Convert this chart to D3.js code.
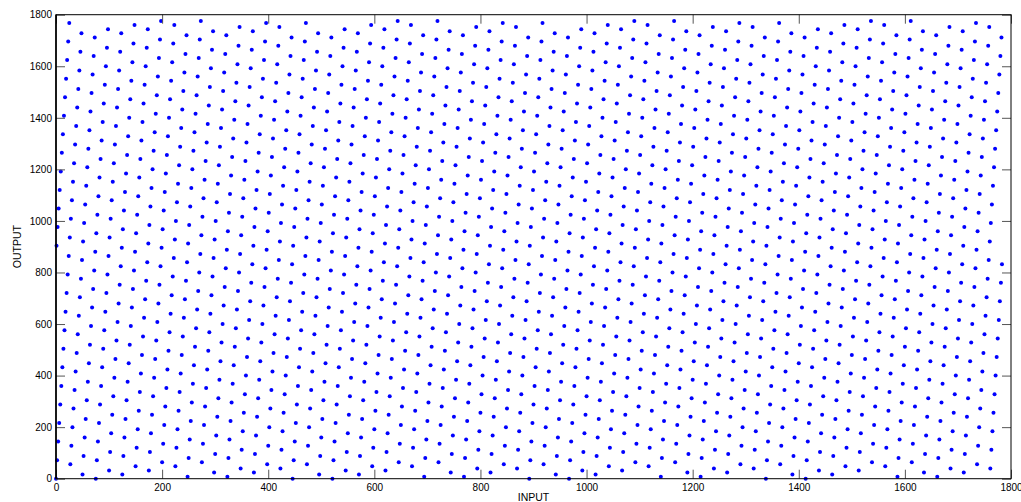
<!DOCTYPE html>
<html>
<head>
<meta charset="utf-8">
<script src="https://cdn.jsdelivr.net/npm/d3@7"></script>
<style>
  html, body { margin: 0; padding: 0; background: #fff; }
  svg { display: block; font-family: "Liberation Sans", Arial, Helvetica, sans-serif; }
</style>
</head>
<body>
<div id="chart"></div>
<script>
// output position for each even input 0, 2, 4, ... 1782 (pattern repeats every 446 inputs)
const outEven = [
  0,72,144,216,288,360,432,504,576,648,720,792,864,936,1008,1080,1152,1224,1296,1368,1440,1512,1584,1656,1728,16,88,160,232,304,376,448,520,592,664,736,808,880,952,1024,1096,1168,1240,1312,1384,1456,1528,1600,1672,1744,32,104,176,248,320,392,464,536,608,680,752,824,896,968,1040,1112,1184,1256,1328,1400,1472,1544,1616,1688,1760,48,120,192,264,336,408,480,552,624,696,768,840,912,984,1056,1128,1200,1272,1344,1416,1488,1560,1632,1704,1776,64,136,208,280,352,424,496,568,640,712,784,856,928,1000,1072,1144,1216,1288,1360,1432,1504,1576,1648,1720,8,80,152,224,296,368,440,512,584,656,728,800,872,944,1016,1088,1160,1232,1304,1376,1448,1520,1592,1664,1736,24,96,168,240,312,384,456,528,600,672,744,816,888,960,1032,1104,1176,1248,1320,1392,1464,1536,1608,1680,1752,40,112,184,256,328,400,472,544,616,688,760,832,904,976,1048,1120,1192,1264,1336,1408,1480,1552,1624,1696,1768,56,128,200,272,344,416,488,560,632,704,776,848,920,992,1064,1136,1208,1280,1352,1424,1496,1568,1640,1712,
  0,72,144,216,288,360,432,504,576,648,720,792,864,936,1008,1080,1152,1224,1296,1368,1440,1512,1584,1656,1728,16,88,160,232,304,376,448,520,592,664,736,808,880,952,1024,1096,1168,1240,1312,1384,1456,1528,1600,1672,1744,32,104,176,248,320,392,464,536,608,680,752,824,896,968,1040,1112,1184,1256,1328,1400,1472,1544,1616,1688,1760,48,120,192,264,336,408,480,552,624,696,768,840,912,984,1056,1128,1200,1272,1344,1416,1488,1560,1632,1704,1776,64,136,208,280,352,424,496,568,640,712,784,856,928,1000,1072,1144,1216,1288,1360,1432,1504,1576,1648,1720,8,80,152,224,296,368,440,512,584,656,728,800,872,944,1016,1088,1160,1232,1304,1376,1448,1520,1592,1664,1736,24,96,168,240,312,384,456,528,600,672,744,816,888,960,1032,1104,1176,1248,1320,1392,1464,1536,1608,1680,1752,40,112,184,256,328,400,472,544,616,688,760,832,904,976,1048,1120,1192,1264,1336,1408,1480,1552,1624,1696,1768,56,128,200,272,344,416,488,560,632,704,776,848,920,992,1064,1136,1208,1280,1352,1424,1496,1568,1640,1712,
  0,72,144,216,288,360,432,504,576,648,720,792,864,936,1008,1080,1152,1224,1296,1368,1440,1512,1584,1656,1728,16,88,160,232,304,376,448,520,592,664,736,808,880,952,1024,1096,1168,1240,1312,1384,1456,1528,1600,1672,1744,32,104,176,248,320,392,464,536,608,680,752,824,896,968,1040,1112,1184,1256,1328,1400,1472,1544,1616,1688,1760,48,120,192,264,336,408,480,552,624,696,768,840,912,984,1056,1128,1200,1272,1344,1416,1488,1560,1632,1704,1776,64,136,208,280,352,424,496,568,640,712,784,856,928,1000,1072,1144,1216,1288,1360,1432,1504,1576,1648,1720,8,80,152,224,296,368,440,512,584,656,728,800,872,944,1016,1088,1160,1232,1304,1376,1448,1520,1592,1664,1736,24,96,168,240,312,384,456,528,600,672,744,816,888,960,1032,1104,1176,1248,1320,1392,1464,1536,1608,1680,1752,40,112,184,256,328,400,472,544,616,688,760,832,904,976,1048,1120,1192,1264,1336,1408,1480,1552,1624,1696,1768,56,128,200,272,344,416,488,560,632,704,776,848,920,992,1064,1136,1208,1280,1352,1424,1496,1568,1640,1712,
  0,72,144,216,288,360,432,504,576,648,720,792,864,936,1008,1080,1152,1224,1296,1368,1440,1512,1584,1656,1728,16,88,160,232,304,376,448,520,592,664,736,808,880,952,1024,1096,1168,1240,1312,1384,1456,1528,1600,1672,1744,32,104,176,248,320,392,464,536,608,680,752,824,896,968,1040,1112,1184,1256,1328,1400,1472,1544,1616,1688,1760,48,120,192,264,336,408,480,552,624,696,768,840,912,984,1056,1128,1200,1272,1344,1416,1488,1560,1632,1704,1776,64,136,208,280,352,424,496,568,640,712,784,856,928,1000,1072,1144,1216,1288,1360,1432,1504,1576,1648,1720,8,80,152,224,296,368,440,512,584,656,728,800,872,944,1016,1088,1160,1232,1304,1376,1448,1520,1592,1664,1736,24,96,168,240,312,384,456,528,600,672,744,816,888,960,1032,1104,1176,1248,1320,1392,1464,1536,1608,1680,1752,40,112,184,256,328,400,472,544,616,688,760,832,904,976,1048,1120,1192,1264,1336,1408,1480,1552,1624,1696,1768,56,128,200,272,344,416,488,560,632,704,776,848,920,992,1064,1136,1208,1280,1352,1424,1496,1568,1640,1712
];

// output position for each odd input 1, 3, 5, ... 1783
const outOdd = [
  904,976,1048,1120,1192,1264,1336,1408,1480,1552,1624,1696,1768,56,128,200,272,344,416,488,560,632,704,776,848,920,992,1064,1136,1208,1280,1352,1424,1496,1568,1640,1712,0,72,144,216,288,360,432,504,576,648,720,792,864,936,1008,1080,1152,1224,1296,1368,1440,1512,1584,1656,1728,16,88,160,232,304,376,448,520,592,664,736,808,880,952,1024,1096,1168,1240,1312,1384,1456,1528,1600,1672,1744,32,104,176,248,320,392,464,536,608,680,752,824,896,968,1040,1112,1184,1256,1328,1400,1472,1544,1616,1688,1760,48,120,192,264,336,408,480,552,624,696,768,840,912,984,1056,1128,1200,1272,1344,1416,1488,1560,1632,1704,1776,64,136,208,280,352,424,496,568,640,712,784,856,928,1000,1072,1144,1216,1288,1360,1432,1504,1576,1648,1720,8,80,152,224,296,368,440,512,584,656,728,800,872,944,1016,1088,1160,1232,1304,1376,1448,1520,1592,1664,1736,24,96,168,240,312,384,456,528,600,672,744,816,888,960,1032,1104,1176,1248,1320,1392,1464,1536,1608,1680,1752,40,112,184,256,328,400,472,544,616,688,760,832,
  904,976,1048,1120,1192,1264,1336,1408,1480,1552,1624,1696,1768,56,128,200,272,344,416,488,560,632,704,776,848,920,992,1064,1136,1208,1280,1352,1424,1496,1568,1640,1712,0,72,144,216,288,360,432,504,576,648,720,792,864,936,1008,1080,1152,1224,1296,1368,1440,1512,1584,1656,1728,16,88,160,232,304,376,448,520,592,664,736,808,880,952,1024,1096,1168,1240,1312,1384,1456,1528,1600,1672,1744,32,104,176,248,320,392,464,536,608,680,752,824,896,968,1040,1112,1184,1256,1328,1400,1472,1544,1616,1688,1760,48,120,192,264,336,408,480,552,624,696,768,840,912,984,1056,1128,1200,1272,1344,1416,1488,1560,1632,1704,1776,64,136,208,280,352,424,496,568,640,712,784,856,928,1000,1072,1144,1216,1288,1360,1432,1504,1576,1648,1720,8,80,152,224,296,368,440,512,584,656,728,800,872,944,1016,1088,1160,1232,1304,1376,1448,1520,1592,1664,1736,24,96,168,240,312,384,456,528,600,672,744,816,888,960,1032,1104,1176,1248,1320,1392,1464,1536,1608,1680,1752,40,112,184,256,328,400,472,544,616,688,760,832,
  904,976,1048,1120,1192,1264,1336,1408,1480,1552,1624,1696,1768,56,128,200,272,344,416,488,560,632,704,776,848,920,992,1064,1136,1208,1280,1352,1424,1496,1568,1640,1712,0,72,144,216,288,360,432,504,576,648,720,792,864,936,1008,1080,1152,1224,1296,1368,1440,1512,1584,1656,1728,16,88,160,232,304,376,448,520,592,664,736,808,880,952,1024,1096,1168,1240,1312,1384,1456,1528,1600,1672,1744,32,104,176,248,320,392,464,536,608,680,752,824,896,968,1040,1112,1184,1256,1328,1400,1472,1544,1616,1688,1760,48,120,192,264,336,408,480,552,624,696,768,840,912,984,1056,1128,1200,1272,1344,1416,1488,1560,1632,1704,1776,64,136,208,280,352,424,496,568,640,712,784,856,928,1000,1072,1144,1216,1288,1360,1432,1504,1576,1648,1720,8,80,152,224,296,368,440,512,584,656,728,800,872,944,1016,1088,1160,1232,1304,1376,1448,1520,1592,1664,1736,24,96,168,240,312,384,456,528,600,672,744,816,888,960,1032,1104,1176,1248,1320,1392,1464,1536,1608,1680,1752,40,112,184,256,328,400,472,544,616,688,760,832,
  904,976,1048,1120,1192,1264,1336,1408,1480,1552,1624,1696,1768,56,128,200,272,344,416,488,560,632,704,776,848,920,992,1064,1136,1208,1280,1352,1424,1496,1568,1640,1712,0,72,144,216,288,360,432,504,576,648,720,792,864,936,1008,1080,1152,1224,1296,1368,1440,1512,1584,1656,1728,16,88,160,232,304,376,448,520,592,664,736,808,880,952,1024,1096,1168,1240,1312,1384,1456,1528,1600,1672,1744,32,104,176,248,320,392,464,536,608,680,752,824,896,968,1040,1112,1184,1256,1328,1400,1472,1544,1616,1688,1760,48,120,192,264,336,408,480,552,624,696,768,840,912,984,1056,1128,1200,1272,1344,1416,1488,1560,1632,1704,1776,64,136,208,280,352,424,496,568,640,712,784,856,928,1000,1072,1144,1216,1288,1360,1432,1504,1576,1648,1720,8,80,152,224,296,368,440,512,584,656,728,800,872,944,1016,1088,1160,1232,1304,1376,1448,1520,1592,1664,1736,24,96,168,240,312,384,456,528,600,672,744,816,888,960,1032,1104,1176,1248,1320,1392,1464,1536,1608,1680,1752,40,112,184,256,328,400,472,544,616,688,760,832
];

const xTicks = [0, 200, 400, 600, 800, 1000, 1200, 1400, 1600, 1800];
const yTicks = [0, 200, 400, 600, 800, 1000, 1200, 1400, 1600, 1800];

const width = 1021;
const height = 502;
const margin = { top: 14.7, right: 10, bottom: 23.3, left: 56 };
const plotW = width - margin.left - margin.right;
const plotH = height - margin.top - margin.bottom;

const points = [];
outEven.forEach((v, k) => points.push({ input: 2 * k, output: v }));
outOdd.forEach((v, k) => points.push({ input: 2 * k + 1, output: v }));

const svg = d3.select("#chart")
    .append("svg")
    .attr("width", width)
    .attr("height", height);

const g = svg.append("g")
    .attr("transform", `translate(${margin.left},${margin.top})`);

const x = d3.scaleLinear().domain([0, 1800]).range([0, plotW]);
const y = d3.scaleLinear().domain([0, 1800]).range([plotH, 0]);

g.append("g")
    .attr("class", "dots")
    .selectAll("circle")
    .data(points)
    .enter()
    .append("circle")
    .attr("cx", d => x(d.input))
    .attr("cy", d => y(d.output))
    .attr("r", 2)
    .attr("fill", "#0000ff");

// ticks point inward on all four sides, labels only bottom and left
const tickLen = 9;
const fmt = d3.format("d");

const axisB = g.append("g")
    .attr("transform", `translate(0,${plotH})`)
    .call(d3.axisBottom(x).tickValues(xTicks).tickSize(-tickLen).tickPadding(5).tickFormat(fmt));
const axisL = g.append("g")
    .call(d3.axisLeft(y).tickValues(yTicks).tickSize(-tickLen).tickPadding(4).tickFormat(fmt));
const axisT = g.append("g")
    .call(d3.axisTop(x).tickValues(xTicks).tickSize(-tickLen).tickFormat(""));
const axisR = g.append("g")
    .attr("transform", `translate(${plotW},0)`)
    .call(d3.axisRight(y).tickValues(yTicks).tickSize(-tickLen).tickFormat(""));

[axisB, axisL, axisT, axisR].forEach(a => {
    a.select(".domain").remove();
    a.selectAll(".tick line").attr("stroke", "#555").attr("stroke-width", 1);
    a.selectAll(".tick text")
        .attr("fill", "#000")
        .style("font-size", "10px")
        .style("font-family", "'Liberation Sans', Arial, sans-serif");
});

g.append("rect")
    .attr("x", 0)
    .attr("y", 0)
    .attr("width", plotW)
    .attr("height", plotH)
    .attr("fill", "none")
    .attr("stroke", "#000")
    .attr("stroke-width", 1);

g.append("line")
    .attr("x1", 0).attr("x2", 0)
    .attr("y1", 0).attr("y2", plotH)
    .attr("stroke", "#000")
    .attr("stroke-width", 1.6);

svg.append("text")
    .attr("x", margin.left + plotW / 2)
    .attr("y", 501)
    .attr("text-anchor", "middle")
    .style("font-size", "10.5px")
    .text("INPUT");

svg.append("text")
    .attr("transform", `translate(21,${margin.top + plotH / 2}) rotate(-90)`)
    .attr("text-anchor", "middle")
    .style("font-size", "10.5px")
    .text("OUTPUT");
</script>
</body>
</html>
